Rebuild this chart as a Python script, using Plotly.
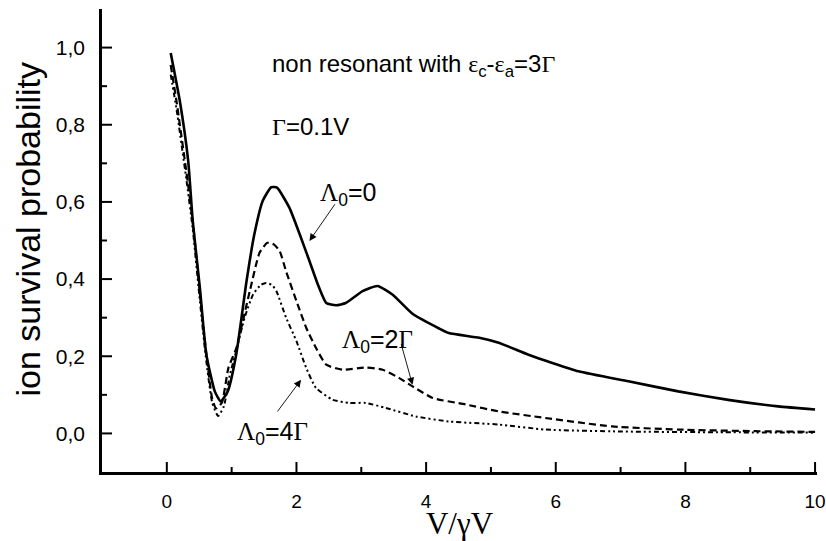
import plotly.graph_objects as go

# ---------------- data ----------------
x_l0 = [0.06, 0.2, 0.33, 0.4, 0.51, 0.61, 0.74, 0.83, 0.94, 1.07, 1.23, 1.35, 1.48, 1.61, 1.7,
        1.89, 2.05, 2.2, 2.33, 2.46, 2.61, 2.76, 3.02, 3.25, 3.48, 3.79, 4.2, 4.35, 4.82, 5.12,
        5.58, 6.35, 7.12, 7.89, 8.66, 9.43, 10.0]
y_l0 = [0.986, 0.862, 0.706, 0.55, 0.377, 0.204, 0.109, 0.083, 0.109, 0.204, 0.395, 0.516, 0.603,
        0.638, 0.637, 0.585, 0.516, 0.447, 0.386, 0.338, 0.332, 0.338, 0.369, 0.382, 0.36, 0.31,
        0.272, 0.26, 0.248, 0.235, 0.204, 0.161, 0.135, 0.109, 0.087, 0.07, 0.062]

x_l2 = [0.06, 0.15, 0.3, 0.4, 0.5, 0.6, 0.7, 0.76, 0.85, 0.95, 1.07, 1.28, 1.43, 1.55, 1.65,
        1.74, 1.84, 2.0, 2.15, 2.3, 2.46, 2.71, 3.07, 3.33, 3.58, 3.79, 4.1, 4.61, 5.12, 5.84,
        6.87, 7.89, 9.0, 10.0]
y_l2 = [0.955, 0.86, 0.68, 0.55, 0.38, 0.22, 0.09, 0.065, 0.08, 0.17, 0.22, 0.369, 0.468, 0.494,
        0.49, 0.473, 0.42, 0.343, 0.274, 0.222, 0.178, 0.165, 0.171, 0.165, 0.144, 0.122, 0.092,
        0.075, 0.057, 0.04, 0.018, 0.01, 0.006, 0.004]

x_l4 = [0.06, 0.15, 0.3, 0.4, 0.5, 0.6, 0.7, 0.79, 0.88, 0.97, 1.08, 1.2, 1.33, 1.45, 1.53, 1.62,
        1.69, 1.84, 2.0, 2.15, 2.3, 2.56, 2.82, 3.07, 3.38, 3.84, 4.35, 5.12, 5.84, 7.0, 8.5, 10.0]
y_l4 = [0.93, 0.84, 0.66, 0.53, 0.36, 0.2, 0.08, 0.045, 0.07, 0.15, 0.22, 0.3, 0.36, 0.385, 0.39,
        0.385, 0.369, 0.3, 0.239, 0.17, 0.118, 0.087, 0.079, 0.079, 0.066, 0.044, 0.031, 0.023,
        0.01, 0.005, 0.003, 0.002]

x_major_ticks = [0, 2, 4, 6, 8, 10]
x_minor_ticks = [1, 3, 5, 7, 9]
y_major_ticks = [0.0, 0.2, 0.4, 0.6, 0.8, 1.0]
y_minor_ticks = [0.1, 0.3, 0.5, 0.7, 0.9]

X_RANGE = [-1, 10.03]
Y_RANGE = [-0.1, 1.1]

W, H = 826, 541
M_L, M_R, M_T, M_B = 102, 9, 9, 69

SERIF = "'Liberation Serif', 'Times New Roman', serif"
SANS = "'Liberation Sans', Arial, sans-serif"

def serif(s):
    return f"<span style=\"font-family:{SERIF}\">{s}</span>"

fig = go.Figure()
fig.add_trace(go.Scatter(x=x_l0, y=y_l0, mode="lines", name="Λ0=0",
                         line=dict(color="black", width=2.6, dash="solid",
                                   shape="spline", smoothing=0.5)))
fig.add_trace(go.Scatter(x=x_l2, y=y_l2, mode="lines", name="Λ0=2Γ",
                         line=dict(color="black", width=2.2, dash="7px,4px",
                                   shape="spline", smoothing=0.5)))
fig.add_trace(go.Scatter(x=x_l4, y=y_l4, mode="lines", name="Λ0=4Γ",
                         line=dict(color="black", width=2.0, dash="5px,3px,2px,3px,2px,3px",
                                   shape="spline", smoothing=0.5)))

# inward-pointing tick marks, built from the tick-value lists (lengths given in pixels)
px_per_x = (W - M_L - M_R) / (X_RANGE[1] - X_RANGE[0])
px_per_y = (H - M_T - M_B) / (Y_RANGE[1] - Y_RANGE[0])
tx, ty = [], []
for vals, length in ((x_major_ticks, 10), (x_minor_ticks, 5)):
    for v in vals:
        tx += [v, v, None]
        ty += [Y_RANGE[0], Y_RANGE[0] + length / px_per_y, None]
for vals, length in ((y_major_ticks, 10), (y_minor_ticks, 5)):
    for v in vals:
        tx += [X_RANGE[0], X_RANGE[0] + length / px_per_x, None]
        ty += [v, v, None]
fig.add_trace(go.Scatter(x=tx, y=ty, mode="lines", hoverinfo="skip", showlegend=False,
                         line=dict(color="black", width=2), cliponaxis=False))

# text annotations
fig.add_annotation(x=1.59, y=0.953, xref="x", yref="y", xanchor="left", yanchor="middle",
                   text="non resonant with " + serif("ε") + "<sub>c</sub>-" + serif("ε")
                        + "<sub>a</sub>=3" + serif("Γ"),
                   showarrow=False, font=dict(family=SANS, size=24, color="black"))
fig.add_annotation(x=1.59, y=0.795, xref="x", yref="y", xanchor="left", yanchor="middle",
                   text=serif("Γ") + "=0.1V",
                   showarrow=False, font=dict(family=SANS, size=24, color="black"))

lab_font = dict(family=SANS, size=25, color="black")
fig.add_annotation(x=2.8, y=0.62, xref="x", yref="y", showarrow=False,
                   text=serif("Λ") + "<sub>0</sub>=0", font=lab_font)
fig.add_annotation(x=3.25, y=0.24, xref="x", yref="y", showarrow=False,
                   text=serif("Λ") + "<sub>0</sub>=2" + serif("Γ"), font=lab_font)
fig.add_annotation(x=1.63, y=0.0, xref="x", yref="y", showarrow=False,
                   text=serif("Λ") + "<sub>0</sub>=4" + serif("Γ"), font=lab_font)

# arrows
arrow_kw = dict(xref="x", yref="y", axref="x", ayref="y", text="", showarrow=True,
                arrowhead=2, arrowsize=1.6, arrowwidth=0.9, arrowcolor="black")
fig.add_annotation(x=2.2, y=0.499, ax=2.61, ay=0.598, **arrow_kw)
fig.add_annotation(x=3.79, y=0.126, ax=3.61, ay=0.235, **arrow_kw)
fig.add_annotation(x=2.07, y=0.139, ax=1.69, ay=0.053, **arrow_kw)

# y-axis title
fig.add_annotation(x=-0.1035, y=0.526, xref="paper", yref="paper", textangle=-90,
                   xanchor="center", yanchor="middle", showarrow=False,
                   text="ion survival probability",
                   font=dict(family=SANS, size=34, color="black"))

fig.update_layout(
    width=W, height=H, autosize=False,
    margin=dict(l=M_L, r=M_R, t=M_T, b=M_B),
    paper_bgcolor="white", plot_bgcolor="white",
    showlegend=False,
    separators=",.",
    font=dict(family=SANS, color="black"),
    xaxis=dict(
        range=X_RANGE, showgrid=False, zeroline=False, automargin=False,
        showline=True, linecolor="black", linewidth=2.5,
        tickmode="array", tickvals=x_major_ticks, ticks="",
        tickfont=dict(family=SANS, size=19, color="black"),
        ticklabelstandoff=10,
        title=dict(text="V/γV", font=dict(family=SERIF, size=31, color="black"), standoff=8),
    ),
    yaxis=dict(
        range=Y_RANGE, showgrid=False, zeroline=False, automargin=False,
        showline=True, linecolor="black", linewidth=2.5,
        tickmode="array", tickvals=y_major_ticks, tickformat=".1f", ticks="",
        tickfont=dict(family=SANS, size=21, color="black"),
        ticklabelstandoff=10,
    ),
)

fig.write_html("out.html", post_script="document.body.style.margin='0';",
               config={"displayModeBar": False})
